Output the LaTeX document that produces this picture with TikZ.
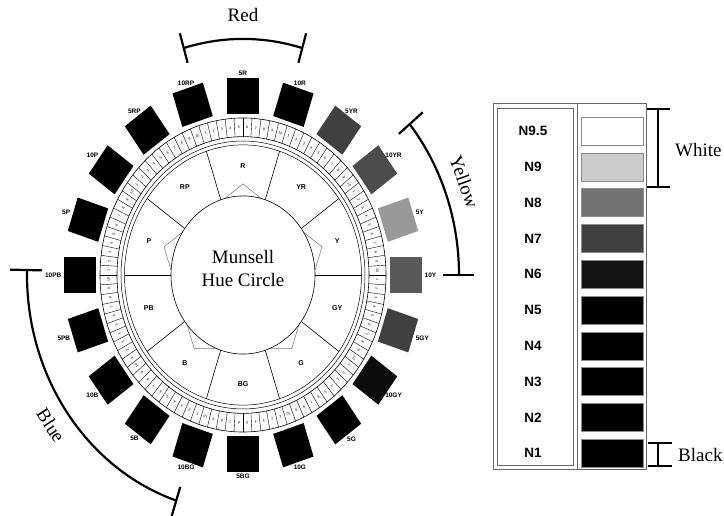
\documentclass[tikz,border=0pt]{standalone}
\usepackage{fontspec}
\setmainfont{Liberation Serif}
\setsansfont{Liberation Sans}
\begin{document}
\begin{tikzpicture}[x=1pt,y=1pt,
  bigtxt/.style={font=\fontsize{19}{23}\selectfont, inner sep=0pt},
  sqlabel/.style={font=\sffamily\bfseries\fontsize{6.5}{7}\selectfont, inner sep=0.5pt},
  hue/.style={font=\sffamily\bfseries\fontsize{7}{8}\selectfont, inner sep=0pt},
  cellnum/.style={font=\sffamily\fontsize{3.6}{4}\selectfont, inner sep=0pt},
  bracket/.style={line width=2.2pt},
  rbracket/.style={line width=2pt},
  panel/.style={draw=black!60, line width=0.8pt},
  nlabel/.style={font=\sffamily\bfseries\fontsize{13.5}{15}\selectfont},
  swatch/.style={draw=black!45, line width=0.5pt, minimum width=62pt, minimum height=28pt, inner sep=0pt}
]
\useasboundingbox (0,0) rectangle (724,516);
\begin{scope}[shift={(243,241)}, yscale=1.098]
  % pentagon behind inner circle
  \draw[black!55, line width=0.5pt] (90:83pt) -- (18:83pt) -- (-54:83pt) -- (-126:83pt) -- (162:83pt) -- cycle;
  % rings
  \draw[line width=0.6pt] (0,0) circle (143pt);
  \draw[line width=0.6pt] (0,0) circle (126pt);
  \draw[line width=0.5pt] (0,0) circle (122pt);
  \draw[line width=0.5pt] (0,0) circle (118.5pt);
  \foreach \j in {0,...,99}{
    \draw[line width=0.4pt] ({3.6*\j}:126pt) -- ({3.6*\j}:143pt);
    \pgfmathtruncatemacro\k{10-mod(\j,10)}
    \node[cellnum, rotate={3.6*\j+1.8-90}] (c\j) at ({3.6*\j+1.8}:134.5pt) {\k};
  }
  % sector lines
  \foreach \a in {0,36,...,324}
    \draw[line width=0.6pt] (\a:72pt) -- (\a:118.5pt);
  % inner circle
  \draw[fill=white, line width=0.6pt] (0,0) circle (72pt);
  % hue names
  \foreach \a/\t [count=\i] in {90/R,54/YR,18/Y,-18/GY,-54/G,-90/BG,-126/B,-162/PB,162/P,126/RP}
    \node[hue] (h\i) at (\a:99pt) {\t};
  % squares
  \foreach \a/\t/\c [count=\i] in {90/5R/black, 72/10R/black, 54/5YR/black!75, 36/10YR/black!70,
      18/5Y/black!40, 0/10Y/black!65, -18/5GY/black!75, -36/10GY/black!95, -54/5G/black,
      -72/10G/black, -90/5BG/black, -108/10BG/black, -126/5B/black, -144/10B/black,
      -162/5PB/black, 180/10PB/black, 162/5P/black, 144/10P/black, 126/5RP/black, 108/10RP/black}{
    \begin{scope}[shift={(\a:163pt)}, rotate=\a-90]
      \fill[\c] (-16pt,-16pt) rectangle (16pt,16pt);
    \end{scope}
    \pgfmathtruncatemacro\an{\a+180}
    \node[sqlabel, anchor=\an] (s\i) at (\a:181pt) {\t};
  }
  % Red
  \draw[bracket] (74:215pt) arc[start angle=74, end angle=106, radius=215pt];
  \draw[bracket] (74:201pt) -- (74:229pt);
  \draw[bracket] (106:201pt) -- (106:229pt);
  \node[bigtxt] (red) at (90:237pt) {Red};
  % Yellow
  \draw[bracket] (0:216pt) arc[start angle=0, end angle=39.5, radius=216pt];
  \draw[bracket] (0:200pt) -- (0:231pt);
  \draw[bracket] (39.5:202pt) -- (39.5:233pt);
  \node[bigtxt, rotate=-70.7] (yellow) at (21:237pt) {Yellow};
  % Blue
  \draw[bracket] (178.8:216pt) arc[start angle=178.8, end angle=252, radius=216pt];
  \draw[bracket] (178.8:201pt) -- (178.8:233pt);
  \draw[bracket] (252:203pt) -- (252:231pt);
  \node[bigtxt, rotate=-57] (blue) at (215.5:236pt) {Blue};
\end{scope}
\node[bigtxt, align=center] (mhc) at (243,247) {Munsell\\Hue Circle};
% right panel
\draw[panel] (493,47) rectangle (577,413);
\draw[panel] (497,51) rectangle (573,408);
\draw[panel] (577,47) rectangle (646,413);
\foreach \lab/\c [count=\i from 0] in {N9.5/white, N9/black!20, N8/black!55, N7/black!75, N6/black!92,
    N5/black, N4/black, N3/black, N2/black, N1/black}{
  \pgfmathsetmacro\yy{516-131-35.8*\i}
  \node[nlabel] (n\i) at (533,\yy) {\lab};
  \node[swatch, fill=\c] (w\i) at (612,\yy) {};
}
% White bracket
\draw[rbracket] (658,407) -- (658,329);
\draw[rbracket] (647,407) -- (670,407);
\draw[rbracket] (647,329) -- (670,329);
\node[bigtxt, anchor=west] (white) at (675,366) {White};
% Black bracket
\draw[rbracket] (658,73) -- (658,50);
\draw[rbracket] (648,73) -- (672,73);
\draw[rbracket] (648,50) -- (672,50);
\node[bigtxt, anchor=west] (black) at (678,61) {Black};
\end{tikzpicture}
\end{document}
